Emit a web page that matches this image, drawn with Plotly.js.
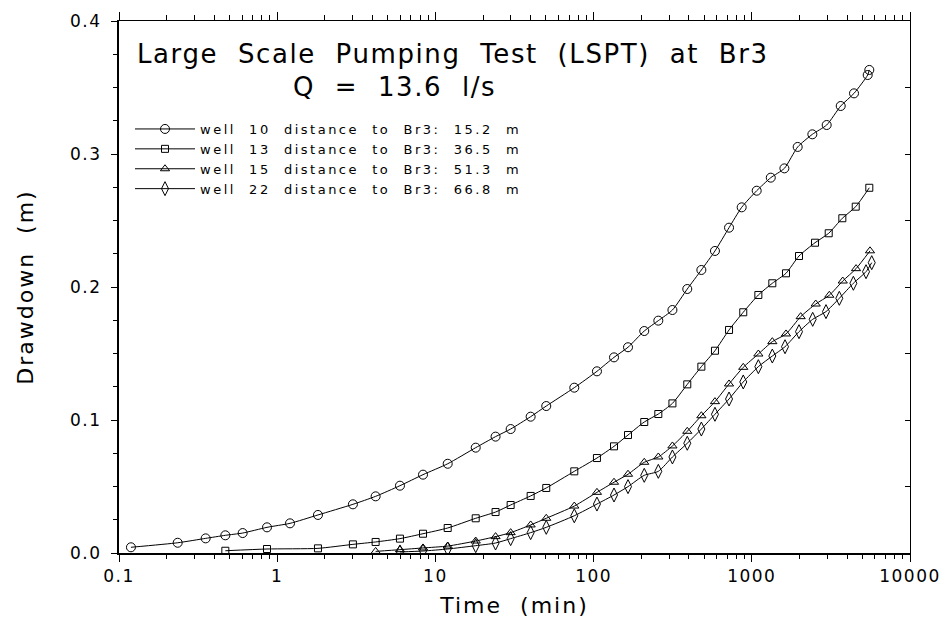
<!DOCTYPE html>
<html>
<head>
<meta charset="utf-8">
<script src="https://cdn.plot.ly/plotly-3.0.1.min.js"></script>
<style>
  html, body { margin: 0; padding: 0; background: #fff; }
  #chart { width: 941px; height: 627px; }
  /* the reference lettering is a wide, loosely spaced plotter font */
  .xtick text, .ytick text { letter-spacing: 1.5px; }
  .g-xtitle text, .g-ytitle text { letter-spacing: 2px; }
  .legendtext { letter-spacing: 2.5px; }
  .annotation-text { letter-spacing: 1.6px; }
</style>
</head>
<body>
<div id="chart"></div>
<script>
// ---- data ----
const t10 = [0.119, 0.235, 0.353, 0.47, 0.605, 0.862, 1.205, 1.81, 3.01, 4.19, 5.97, 8.35, 11.96, 17.98, 24.0, 29.9, 40.0, 50.2, 75.5, 105, 134.6, 165, 209, 256.5, 315, 391, 480, 585, 718, 863, 1074, 1318, 1607, 1950, 2414, 2974, 3648, 4427, 5403, 5530];
const d10 = [0.0043, 0.0077, 0.011, 0.0133, 0.015, 0.0193, 0.0223, 0.0286, 0.0366, 0.0426, 0.0506, 0.0589, 0.0671, 0.0792, 0.0875, 0.0932, 0.1025, 0.1105, 0.1243, 0.1366, 0.1471, 0.1547, 0.1669, 0.1747, 0.1827, 0.1985, 0.2128, 0.2271, 0.2446, 0.2599, 0.2724, 0.2822, 0.2892, 0.3053, 0.3148, 0.3218, 0.3361, 0.3456, 0.3594, 0.3632];

const t13 = [0.47, 0.862, 1.81, 3.01, 4.19, 5.97, 8.35, 11.96, 17.98, 24.0, 29.9, 40.0, 50.2, 75.5, 105, 134.6, 165, 209, 256.5, 315, 391, 480, 585, 718, 883, 1100, 1348, 1645, 1988, 2510, 3063, 3735, 4538, 5530];
const d13 = [0.0017, 0.003, 0.0035, 0.0065, 0.0083, 0.0108, 0.0145, 0.0188, 0.0261, 0.0308, 0.0361, 0.0429, 0.0489, 0.0614, 0.0714, 0.0802, 0.0887, 0.0985, 0.1045, 0.1125, 0.1268, 0.1401, 0.1521, 0.1677, 0.181, 0.194, 0.2028, 0.2103, 0.2233, 0.2333, 0.2404, 0.2517, 0.2604, 0.2746];

const t15 = [4.19, 5.97, 8.35, 11.96, 17.98, 24.0, 29.9, 40.0, 50.2, 75.5, 105, 134.6, 165, 209, 256.5, 315, 391, 480, 585, 718, 883, 1100, 1348, 1645, 2037, 2535, 3090, 3757, 4560, 5587];
const d15 = [0.0012, 0.0025, 0.0038, 0.0052, 0.009, 0.0123, 0.0153, 0.0211, 0.0261, 0.0353, 0.0456, 0.0532, 0.0592, 0.0682, 0.0722, 0.0805, 0.0915, 0.1032, 0.1138, 0.1271, 0.1396, 0.1496, 0.1589, 0.1647, 0.1777, 0.1872, 0.1938, 0.2045, 0.2138, 0.2272];

const t22 = [5.97, 8.35, 11.96, 17.98, 24.0, 29.9, 40.0, 50.2, 75.5, 105, 134.6, 165, 209, 256.5, 315, 391, 480, 585, 718, 883, 1100, 1348, 1622, 1988, 2426, 2944, 3574, 4385, 5272, 5728];
const d22 = [0.0008, 0.0015, 0.003, 0.0055, 0.0075, 0.0108, 0.0153, 0.0193, 0.028, 0.0368, 0.0436, 0.0499, 0.0584, 0.0614, 0.0722, 0.0825, 0.0932, 0.1043, 0.1158, 0.1286, 0.1401, 0.1481, 0.1551, 0.1664, 0.1757, 0.1815, 0.1915, 0.2028, 0.2115, 0.2183];

const seriesNames = [
  "well  10  distance  to  Br3:  15.2  m",
  "well  13  distance  to  Br3:  36.5  m",
  "well  15  distance  to  Br3:  51.3  m",
  "well  22  distance  to  Br3:  66.8  m"
];
const xTickVals = [0.1, 1, 10, 100, 1000, 10000];
const xTickText = ["0.1", "1", "10", "100", "1000", "10000"];
const yTickVals = [0.0, 0.1, 0.2, 0.3, 0.4];
const yTickText = ["0.0", "0.1", "0.2", "0.3", "0.4"];
const titleLine1 = "Large  Scale  Pumping  Test  (LSPT)  at  Br3";
const titleLine2 = "Q  =  13.6  l/s";
const xTitle = "Time  (min)";
const yTitle = "Drawdown  (m)";

// ---- build ----
const nb = s => s.replace(/ /g, "\u00a0");
const FONT = "DejaVu Sans, sans-serif";

const minorX = [];
[0.1, 1, 10, 100, 1000].forEach(dec => { for (let k = 2; k <= 9; k++) minorX.push(+(dec * k).toPrecision(3)); });

const symbols = ["circle-open", "square-open", "triangle-up-open", "diamond-tall-open"];
const sizes = [9, 7, 8, 10];
const xs = [t10, t13, t15, t22];
const ys = [d10, d13, d15, d22];

const traces = xs.map((x, i) => ({
  x: x, y: ys[i],
  type: "scatter", mode: "lines+markers",
  name: nb(seriesNames[i]),
  line: { color: "#000", width: 1, shape: "spline", smoothing: 0.6 },
  marker: { symbol: symbols[i], size: sizes[i], color: "#000", line: { color: "#000", width: 1 } },
  xaxis: "x", yaxis: "y"
}));
// empty helper traces so the mirror axes are drawn
traces.push({ x: [], y: [], type: "scatter", mode: "markers", xaxis: "x2", yaxis: "y", showlegend: false, hoverinfo: "skip" });
traces.push({ x: [], y: [], type: "scatter", mode: "markers", xaxis: "x", yaxis: "y2", showlegend: false, hoverinfo: "skip" });

const layout = {
  width: 941, height: 627,
  margin: { l: 119, r: 31, t: 21, b: 74, pad: 0 },
  paper_bgcolor: "#fff", plot_bgcolor: "#fff",
  font: { family: FONT, color: "#000", size: 16 },
  showlegend: true,
  legend: {
    x: (130 - 119) / 791, y: (553 - 114) / 532, xanchor: "left", yanchor: "top",
    bgcolor: "rgba(0,0,0,0)", borderwidth: 0,
    font: { family: FONT, size: 13, color: "#000" },
    itemwidth: 60, tracegroupgap: 0
  },
  xaxis: {
    type: "log", range: [-1, 4],
    showgrid: false, zeroline: false,
    showline: true, linecolor: "#000", linewidth: 2,
    ticks: "outside", ticklen: 7, tickwidth: 1, tickcolor: "#000",
    tickmode: "array", tickvals: xTickVals, ticktext: xTickText,
    tickfont: { family: FONT, size: 17 },
    minor: { tickmode: "array", tickvals: minorX, ticks: "outside", ticklen: 4, tickwidth: 1, tickcolor: "#000", showgrid: false },
    title: { text: nb(xTitle), font: { family: FONT, size: 22 }, standoff: 12 }
  },
  xaxis2: {
    type: "log", range: [-1, 4], overlaying: "x", side: "top",
    showgrid: false, zeroline: false, showticklabels: false,
    showline: true, linecolor: "#000", linewidth: 1,
    ticks: "outside", ticklen: 8, tickwidth: 1, tickcolor: "#000",
    tickmode: "array", tickvals: xTickVals,
    minor: { tickmode: "array", tickvals: minorX, ticks: "outside", ticklen: 5, tickwidth: 1, tickcolor: "#000", showgrid: false }
  },
  yaxis: {
    range: [0, 0.4],
    showgrid: false, zeroline: false,
    showline: true, linecolor: "#000", linewidth: 2,
    ticks: "outside", ticklen: 6, tickwidth: 1, tickcolor: "#000",
    tickmode: "array", tickvals: yTickVals, ticktext: yTickText,
    tickfont: { family: FONT, size: 17 },
    ticklabelstandoff: 6,
    minor: { dtick: 0.025, ticks: "outside", ticklen: 4, tickwidth: 1, tickcolor: "#000", showgrid: false },
    title: { text: nb(yTitle), font: { family: FONT, size: 22 }, standoff: 30 }
  },
  yaxis2: {
    range: [0, 0.4], overlaying: "y", side: "right",
    showgrid: false, zeroline: false, showticklabels: false,
    showline: true, linecolor: "#000", linewidth: 1,
    ticks: "inside", ticklen: 5, tickwidth: 1, tickcolor: "#000",
    tickmode: "linear", tick0: 0, dtick: 0.05
  },
  annotations: [
    { xref: "paper", yref: "paper", x: (453 - 119) / 791, y: (553 - 54) / 532, xanchor: "center", yanchor: "middle",
      text: nb(titleLine1), showarrow: false, font: { family: FONT, size: 26, color: "#000" } },
    { xref: "paper", yref: "paper", x: (394 - 119) / 791, y: (553 - 87) / 532, xanchor: "center", yanchor: "middle",
      text: nb(titleLine2), showarrow: false, font: { family: FONT, size: 26, color: "#000" } }
  ]
};

Plotly.newPlot("chart", traces, layout, { displayModeBar: false, staticPlot: true });
</script>
</body>
</html>
